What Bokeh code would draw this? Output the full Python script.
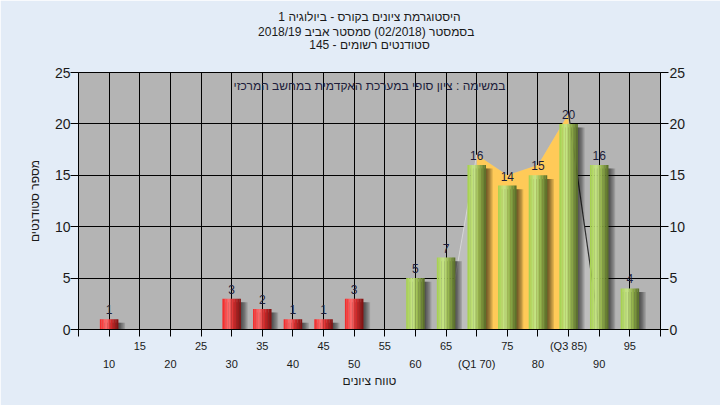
from bokeh.plotting import figure
from bokeh.models import ColumnDataSource, Range1d, FixedTicker, LinearAxis, Title, Label
from bokeh.transform import dodge
from bokeh.core.properties import value
from bokeh.embed import file_html
from bokeh.resources import INLINE

# ---------------- data ----------------
title_lines = ["היסטוגרמת ציונים בקורס - ביולוגיה 1",
               "בסמסטר  (02/2018)  סמסטר אביב 2018/19",
               "סטודנטים רשומים - 145"]
subtitle = "במשימה : ציון סופי במערכת האקדמית במחשב המרכזי"
x_title = "טווח ציונים"
y_title = "מספר סטודנטים"

scores = [10, 15, 20, 25, 30, 35, 40, 45, 50, 55, 60, 65, 70, 75, 80, 85, 90, 95]
counts = [1, 0, 0, 0, 3, 2, 1, 1, 3, 0, 5, 7, 16, 14, 15, 20, 16, 4]
pass_mark = 55
q1_score = 70
q3_score = 85
y_ticks = [0, 5, 10, 15, 20, 25]

# quartile area series as seen on the chart
area_x = [65, 70, 75, 80, 85, 90]
area_y = [0, 17, 15, 16, 21, 0]

FONT = "Liberation Sans"
BAR_W = 3.0

# ---------------- figure ----------------
p = figure(width=720, height=405, output_backend="svg", toolbar_location=None,
           x_range=Range1d(5, 100), y_range=Range1d(0, 25), title=None,
           min_border_left=78, min_border_right=60, min_border_top=72, min_border_bottom=76)
p.border_fill_color = "#e3ecf7"
p.background_fill_color = "#b4b4b4"
p.outline_line_color = "black"
p.outline_line_width = 1

# spacer + titles (innermost first)
p.add_layout(Title(text=" ", text_font_size="18px", standoff=0), "above")
for txt, so in zip(reversed(title_lines), [-3.5, -2.5, 0]):
    p.add_layout(Title(text=txt, align="center", text_font=FONT, text_font_size="12px",
                       text_font_style="normal", text_color="#1a1a1a", text_line_height=0.75,
                       standoff=so, offset=-9), "above")

# grids
p.xgrid.ticker = FixedTicker(ticks=scores)
p.ygrid.ticker = FixedTicker(ticks=y_ticks)
for g in (p.xgrid[0], p.ygrid[0]):
    g.grid_line_color = "black"
    g.grid_line_alpha = 1.0
    g.grid_line_width = 1

# x axes
odd = scores[1::2]
even = scores[0::2]
def lab(s):
    if s == q1_score:
        return "(Q1 %d)" % s
    if s == q3_score:
        return "(Q3 %d)" % s
    return str(s)

xa = p.xaxis[0]
xa.ticker = FixedTicker(ticks=[5] + scores + [100])
xa.major_label_overrides = {s: (lab(s) if s in odd else "") for s in [5] + scores + [100]}
xa.major_tick_out = 7
xa.major_tick_in = 0
xa.minor_tick_line_color = None
xa.major_label_standoff = 3
xa.axis_line_color = "black"
xa.major_tick_line_color = "black"
xa.major_label_text_font = FONT
xa.major_label_text_font_size = "11px"
xa.major_label_text_color = "#1a1a1a"

xa2 = LinearAxis(ticker=FixedTicker(ticks=even))
xa2.major_label_overrides = {s: lab(s) for s in even}
xa2.axis_line_color = None
xa2.major_tick_line_color = None
xa2.minor_tick_line_color = None
xa2.major_tick_out = 0
xa2.major_tick_in = 0
xa2.major_label_standoff = 3
xa2.major_label_text_font = FONT
xa2.major_label_text_font_size = "11px"
xa2.major_label_text_color = "#1a1a1a"
xa2.axis_label = x_title
xa2.axis_label_standoff = 1
xa2.axis_label_text_font = FONT
xa2.axis_label_text_font_size = "12px"
xa2.axis_label_text_font_style = "normal"
xa2.axis_label_text_color = "#1a1a1a"
p.add_layout(xa2, "below")

# y axes
ya = p.yaxis[0]
ya2 = LinearAxis()
p.add_layout(ya2, "right")
for a in (ya, ya2):
    a.ticker = FixedTicker(ticks=y_ticks)
    a.major_tick_out = 8
    a.major_tick_in = 0
    a.minor_tick_line_color = None
    a.axis_line_color = "black"
    a.major_tick_line_color = "black"
    a.major_label_standoff = 1
    a.major_label_text_font = FONT
    a.major_label_text_font_size = "14px"
    a.major_label_text_color = "#1a1a1a"
ya.major_label_standoff = 0
ya.axis_label = y_title
ya.axis_label_standoff = 10
ya.axis_label_text_font = FONT
ya.axis_label_text_font_size = "12px"
ya.axis_label_text_font_style = "normal"
ya.axis_label_text_color = "#1a1a1a"

# ---------------- quartile area ----------------
p.patch(area_x, area_y, fill_color="#bebebe", line_color=None)
mid_x = area_x[1:-1]
mid_y = area_y[1:-1]
p.varea(x=mid_x, y1=[0] * len(mid_x), y2=mid_y, fill_color="#ffca58")
p.line(area_x[:2], area_y[:2], line_color="#d6d6d6", line_width=1)
p.line(area_x[-2:], area_y[-2:], line_color="#303030", line_width=1.2)

# ---------------- bars ----------------
fail = ColumnDataSource(dict(x=[s for s, c in zip(scores, counts) if s < pass_mark],
                             top=[c for s, c in zip(scores, counts) if s < pass_mark]))
good = ColumnDataSource(dict(x=[s for s, c in zip(scores, counts) if s >= pass_mark],
                             top=[c for s, c in zip(scores, counts) if s >= pass_mark]))

# soft shadows (stacked translucent copies, darkest next to the bar)
for src in (fail, good):
    for k in range(5):
        p.vbar(x=dodge("x", 0.22 * (k + 1), range=None), top=dodge("top", -0.35, range=None),
               width=BAR_W, fill_color="black", fill_alpha=0.14, line_color=None, source=src)

def hex2rgb(h):
    h = h.lstrip("#")
    return tuple(int(h[i:i + 2], 16) for i in (0, 2, 4))

def grad(stops, t):
    for (t0, c0), (t1, c1) in zip(stops[:-1], stops[1:]):
        if t0 <= t <= t1:
            f = (t - t0) / (t1 - t0) if t1 > t0 else 0
            a, b = hex2rgb(c0), hex2rgb(c1)
            return "#%02x%02x%02x" % tuple(int(round(a[k] + (b[k] - a[k]) * f)) for k in range(3))
    return stops[-1][1]

red_stops = [(0.0, "#f02424"), (0.35, "#ff7070"), (0.6, "#d82a2a"), (1.0, "#7a1212")]
green_stops = [(0.0, "#a4cf4a"), (0.35, "#c9e78a"), (0.6, "#9bbb50"), (1.0, "#566b28")]

N = 12
for src, stops in ((fail, red_stops), (good, green_stops)):
    for i in range(N):
        t = (i + 0.5) / N
        off = (-0.5 + t) * BAR_W
        p.vbar(x=dodge("x", off, range=None), top="top", width=BAR_W / N * 1.1,
               fill_color=grad(stops, t), line_color=None, source=src)

# value labels
lab_src = ColumnDataSource(dict(x=[s for s, c in zip(scores, counts) if c > 0],
                                y=[c for s, c in zip(scores, counts) if c > 0],
                                t=[str(c) for s, c in zip(scores, counts) if c > 0]))
p.text(x="x", y="y", text="t", source=lab_src, text_align="center", text_baseline="bottom",
       y_offset=-5, text_font=value(FONT), text_font_size="12px", text_color="#1c1c3a")

# in-plot subtitle
p.add_layout(Label(x=(p.x_range.start + p.x_range.end) / 2, y=23.7, text=subtitle,
                   text_align="center", text_baseline="middle", text_font=FONT,
                   text_font_size="12px", text_color="#1c1c3a"))

open("out.html", "w").write(file_html(p, INLINE))
